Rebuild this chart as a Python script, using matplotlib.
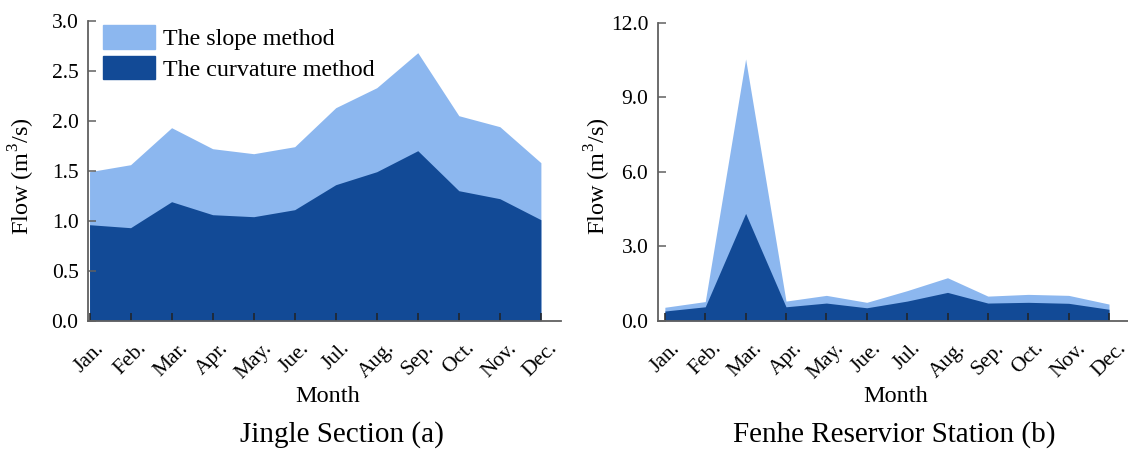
import matplotlib
matplotlib.use("Agg")
import matplotlib.pyplot as plt
from matplotlib.patches import Patch

plt.rcParams['font.family'] = ['Liberation Serif', 'DejaVu Serif']
plt.rcParams['mathtext.fontset'] = 'custom'
plt.rcParams['mathtext.rm'] = 'Liberation Serif'

months = ['Jan.', 'Feb.', 'Mar.', 'Apr.', 'May.', 'Jue.', 'Jul.', 'Aug.',
          'Sep.', 'Oct.', 'Nov.', 'Dec.']

# Jingle Section (a)
jingle_slope = [1.49, 1.56, 1.93, 1.72, 1.67, 1.74, 2.13, 2.33, 2.68, 2.05, 1.94, 1.58]
jingle_curv = [0.96, 0.93, 1.19, 1.06, 1.04, 1.11, 1.36, 1.49, 1.70, 1.30, 1.22, 1.01]

# Fenhe Reservior Station (b)
fenhe_slope = [0.54, 0.77, 10.54, 0.79, 1.02, 0.74, 1.21, 1.73, 0.99, 1.06, 1.02, 0.67]
fenhe_curv = [0.39, 0.56, 4.32, 0.56, 0.71, 0.52, 0.79, 1.14, 0.71, 0.74, 0.70, 0.46]

light = '#8cb7ef'
dark = '#124a96'
axcol = '#606060'

W, H = 1128, 450
fig = plt.figure(figsize=(W / 100, H / 100), dpi=100)
ax1 = fig.add_axes([88.3 / W, 1 - 320.7 / H, (561 - 88.3) / W, 300 / H])
ax2 = fig.add_axes([658 / W, 1 - 320.7 / H, (1128 - 658) / W, 298 / H])


def style(ax, slope, curv, ymax, step, xmin, xmax, ylab_x, month_x, title, title_x):
    x = list(range(len(months)))
    ax.fill_between(x, 0, slope, color=light, lw=0)
    ax.fill_between(x, 0, curv, color=dark, lw=0)
    ax.set_xlim(xmin, xmax)
    ax.set_ylim(0, ymax)
    n = int(round(ymax / step)) + 1
    ax.set_yticks([i * step for i in range(n)])
    ax.set_yticklabels(['{:.1f}'.format(i * step) for i in range(n)])
    ax.set_xticks(x)
    ax.set_xticklabels(months, rotation=45, ha='center', va='top')
    for s in ['top', 'right']:
        ax.spines[s].set_visible(False)
    for s in ['left', 'bottom']:
        ax.spines[s].set_color(axcol)
        ax.spines[s].set_linewidth(1.3)
    ax.tick_params(axis='x', direction='in', length=6, width=1.1, color='#222222',
                   labelsize=15.5, pad=13)
    ax.tick_params(axis='y', direction='in', length=6, width=1.1, color=axcol,
                   labelsize=15.5, pad=7)
    fig.text(ylab_x / W, 1 - 176 / H, 'Flow (m$^{3}$/s)', rotation=90,
             ha='center', va='center', fontsize=17.5)
    fig.text(month_x / W, 1 - 401.7 / H, 'Month', ha='center', va='baseline', fontsize=17.5)
    fig.text(title_x / W, 1 - 441.5 / H, title, ha='center', va='baseline', fontsize=21)


style(ax1, jingle_slope, jingle_curv, 3.0, 0.5, -0.03, 11.49, 22, 327.5,
      'Jingle Section (a)', 341.7)
style(ax2, fenhe_slope, fenhe_curv, 12.0, 3.0, -0.17, 11.47, 598, 896,
      'Fenhe Reservior Station (b)', 894)

handles = [Patch(color=light, label='The slope method'),
           Patch(color=dark, label='The curvature method')]
ax1.legend(handles=handles, loc='upper left', bbox_to_anchor=(0.0305, 0.985),
           frameon=False, fontsize=17.3, borderpad=0, borderaxespad=0,
           handlelength=2.19, handleheight=1.15, handletextpad=0.3, labelspacing=0.22)

fig.savefig('out.png', dpi=100)
